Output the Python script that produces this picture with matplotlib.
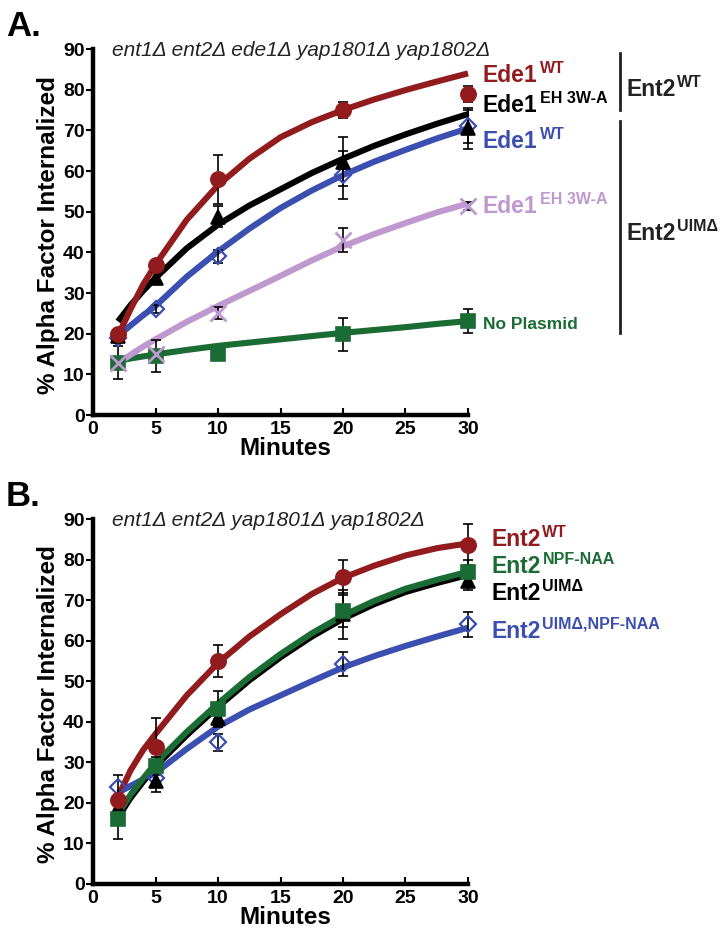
import matplotlib
matplotlib.use("Agg")
import matplotlib.pyplot as plt
from matplotlib.lines import Line2D

plt.rcParams['font.family'] = ['Liberation Sans', 'DejaVu Sans']

# time points of the measurements and of the read-off fitted curves
minutes = [2, 5, 10, 20, 30]
curve_minutes = [2, 3, 4, 5, 7.5, 10, 12.5, 15, 17.5, 20, 22.5, 25, 27.5, 30]

# panel A: ent1 ent2 ede1 yap1801 yap1802
a_ede1wt_ent2wt = [20, 37, 58, 75, 79]
a_ede1wt_ent2wt_err = [1, 1, 6, 2, 2]
a_ede1wt_ent2wt_fit = [19.5, 26, 32, 37, 48, 56.5, 63, 68.3, 72, 75, 77.6, 79.9, 82, 84]

a_ede1eh_ent2wt = [19.4, 33.7, 48.8, 62.3, 70.5]
a_ede1eh_ent2wt_err = [1.5, 1.5, 2.5, 6, 5]
a_ede1eh_ent2wt_fit = [23, 27, 30.5, 33.7, 41, 46.8, 51.5, 55.5, 59.5, 63, 66.2, 69, 71.6, 74]

a_ede1wt_uim = [19, 26, 39, 59, 71]
a_ede1wt_uim_err = [1, 1, 1.5, 6, 4]
a_ede1wt_uim_fit = [19.4, 22, 24.5, 26.8, 34, 40.2, 45.8, 50.9, 55.2, 59, 62.3, 65.2, 68, 70.5]

a_ede1eh_uim = [12.9, 14.9, 25.1, 43.1, 51.3]
a_ede1eh_uim_err = [1, 1, 1.5, 3, 1]
a_ede1eh_uim_fit = [12.8, 14.8, 16.8, 18.6, 22.9, 26.8, 30.5, 34.2, 38, 41.5, 44.5, 47.2, 49.8, 52]

a_noplasmid = [12.9, 14.5, 14.9, 19.8, 23.1]
a_noplasmid_err = [4, 4, 1, 4, 3]
a_noplasmid_fit = [13.3, 13.9, 14.4, 14.9, 16, 17, 17.8, 18.6, 19.4, 20.2, 20.9, 21.6, 22.4, 23.1]

# panel B: ent1 ent2 yap1801 yap1802
b_ent2wt = [20.8, 33.9, 55, 75.8, 83.7]
b_ent2wt_err = [1, 7, 4, 4, 5]
b_ent2wt_fit = [21.5, 28, 33, 37, 46.5, 54.5, 61, 66.5, 71.5, 75.5, 78.5, 81, 82.8, 84]

b_npf = [16, 29.2, 43.2, 67.3, 77]
b_npf_err = [5, 2, 4.5, 4, 3]
b_npf_fit = [17.2, 22, 26, 29.8, 37.5, 44.5, 51, 56.7, 61.8, 66.2, 69.8, 72.8, 75, 77]

b_uim = [18.8, 25.3, 41, 66.5, 74.6]
b_uim_err = [1.5, 2.5, 2, 6, 2]
b_uim_fit = [16.4, 21.2, 25.2, 29, 36.7, 43.7, 50.2, 55.9, 61, 65.4, 69, 72, 74.2, 76.2]

b_uim_npf = [24, 26.1, 34.9, 54.2, 64]
b_uim_npf_err = [3, 2, 2, 3, 3]
b_uim_npf_fit = [22.5, 24.2, 25.8, 27.4, 33.3, 38.8, 43, 46.5, 50, 53.4, 56.2, 58.7, 61, 63.2]

RED = '#921b1e'
BLACK = '#000000'
BLUE = '#3a4fb0'
LILAC = '#bf98cf'
GREEN = '#1b6b35'

W, H = 728, 936
fig = plt.figure(figsize=(W / 100, H / 100), dpi=100)


def px(x, y):
    return x / W, 1 - y / H


def setup_axes(top_px, bottom_px):
    left, right = 93, 468
    ax = fig.add_axes([left / W, 1 - bottom_px / H, (right - left) / W, (bottom_px - top_px) / H])
    ax.set_xlim(0, 30)
    ax.set_ylim(0, 90)
    for s in ['top', 'right']:
        ax.spines[s].set_visible(False)
    for s in ['left', 'bottom']:
        ax.spines[s].set_linewidth(3.2)
    ax.set_xticks(range(0, 31, 5))
    ax.set_yticks(range(0, 91, 10))
    ax.tick_params(axis='x', direction='in', length=5, width=1.5, pad=4, labelsize=14)
    ax.tick_params(axis='y', direction='out', length=5, width=1.5, pad=1, labelsize=14)
    for lab in ax.get_xticklabels() + ax.get_yticklabels():
        lab.set_fontweight('bold')
    return ax


def series(ax, y, err, fit, color, marker, ms, mfc, mew=1.2):
    ax.plot(curve_minutes, fit, color=color, lw=4.4, solid_capstyle='butt', zorder=2, clip_on=False)
    ax.errorbar(minutes, y, yerr=err, fmt='none', ecolor='black', elinewidth=1.2,
                capsize=3.5, capthick=1.2, zorder=3, clip_on=False)
    ax.plot(minutes, y, ls='none', marker=marker, ms=ms, mfc=mfc, mec=color, mew=mew,
            zorder=4, clip_on=False)


def label(x, y, main, sup, color, size=16.5, supsize=11.5):
    t = fig.text(*px(x, y), main, color=color, fontsize=size, fontweight='bold', va='baseline')
    if sup:
        plt.annotate(sup, xy=(1, 1), xycoords=t, xytext=(1.5, 2.5), textcoords='offset points',
                     color=color, fontsize=supsize, fontweight='bold', va='top', ha='left',
                     annotation_clip=False)
    return t


def axis_texts(top_px, bottom_px, letter, subtitle):
    fig.text(*px(6, top_px - 13), letter, fontsize=25, fontweight='bold', va='baseline')
    fig.text(*px(112, top_px + 7), subtitle, fontsize=15, style='italic', color='#222222', va='baseline')
    fig.text(*px(49, (top_px + bottom_px) / 2 + 3), '% Alpha Factor Internalized', fontsize=17.5,
             fontweight='bold', rotation=90, ha='center', va='center')
    fig.text(*px(285, bottom_px + 33), 'Minutes', fontsize=17.5, fontweight='bold',
             ha='center', va='center')


# ---- panel A
axA = setup_axes(49, 415)
series(axA, a_noplasmid, a_noplasmid_err, a_noplasmid_fit, GREEN, 's', 10.5, GREEN)
series(axA, a_ede1eh_uim, a_ede1eh_uim_err, a_ede1eh_uim_fit, LILAC, 'x', 11, LILAC, mew=2)
series(axA, a_ede1wt_uim, a_ede1wt_uim_err, a_ede1wt_uim_fit, BLUE, 'D', 8.5, 'none', mew=1.6)
series(axA, a_ede1eh_ent2wt, a_ede1eh_ent2wt_err, a_ede1eh_ent2wt_fit, BLACK, '^', 10, BLACK)
series(axA, a_ede1wt_ent2wt, a_ede1wt_ent2wt_err, a_ede1wt_ent2wt_fit, RED, 'o', 11, RED)
axis_texts(49, 415, 'A.', 'ent1\u0394 ent2\u0394 ede1\u0394 yap1801\u0394 yap1802\u0394')

label(483, 82, 'Ede1', 'WT', RED)
label(483, 112, 'Ede1', 'EH 3W-A', BLACK)
label(483, 148, 'Ede1', 'WT', BLUE)
label(483, 213, 'Ede1', 'EH 3W-A', LILAC)
label(483, 329, 'No Plasmid', None, GREEN, size=12.5)
fig.add_artist(Line2D([620 / W] * 2, [1 - 53 / H, 1 - 110 / H], color='#222222', lw=2))
fig.add_artist(Line2D([620 / W] * 2, [1 - 121 / H, 1 - 333 / H], color='#222222', lw=2))
label(626, 96, 'Ent2', 'WT', '#222222')
label(626, 240, 'Ent2', 'UIM\u0394', '#222222')

# ---- panel B
axB = setup_axes(519, 884)
series(axB, b_uim_npf, b_uim_npf_err, b_uim_npf_fit, BLUE, 'D', 8.5, 'none', mew=1.6)
series(axB, b_uim, b_uim_err, b_uim_fit, BLACK, '^', 10, BLACK)
series(axB, b_npf, b_npf_err, b_npf_fit, GREEN, 's', 10.5, GREEN)
series(axB, b_ent2wt, b_ent2wt_err, b_ent2wt_fit, RED, 'o', 11, RED)
axis_texts(519, 884, 'B.', 'ent1\u0394 ent2\u0394 yap1801\u0394 yap1802\u0394')

label(491, 546, 'Ent2', 'WT', RED)
label(491, 573, 'Ent2', 'NPF-NAA', GREEN)
label(491, 600, 'Ent2', 'UIM\u0394', BLACK)
label(491, 638, 'Ent2', 'UIM\u0394,NPF-NAA', BLUE)

fig.savefig('out.png', dpi=100)
